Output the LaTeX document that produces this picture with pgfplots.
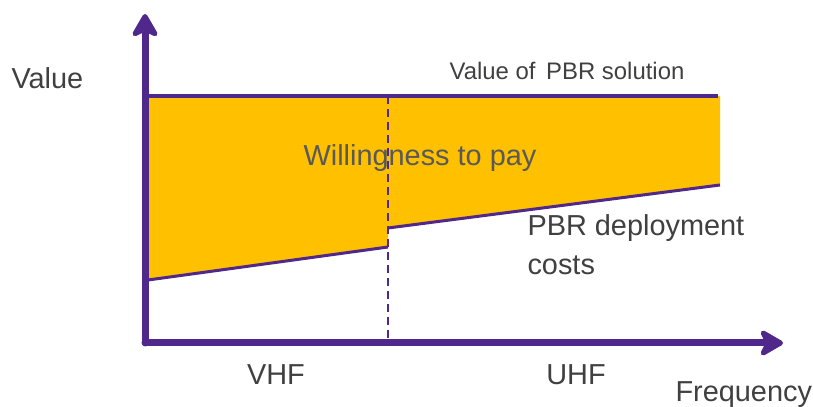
\documentclass[border=0pt]{standalone}
\usepackage{pgfplots}
\pgfplotsset{compat=1.18}
\usepackage{fontspec}
\setmainfont{Liberation Sans}
\usetikzlibrary{arrows.meta}
\definecolor{pbrpurple}{RGB}{80,40,140}
\definecolor{pbrorange}{RGB}{255,192,0}
\definecolor{txtgray}{RGB}{64,64,64}
\definecolor{wgray}{RGB}{89,89,89}
\begin{document}
\begin{tikzpicture}
\begin{axis}[
  name=ax,
  scale only axis, width=813bp, height=407bp,
  xmin=0, xmax=813, ymin=0, ymax=407,
  hide axis, clip=false,
]
% willingness-to-pay area
\addplot[fill=pbrorange, draw=none] coordinates {
  (148,311) (720,311) (720,222) (388,179) (388,160) (148,127)} -- cycle;
% value of PBR solution
\addplot[pbrpurple, line width=4bp] coordinates {(148,311) (718,311)};
% PBR deployment costs
\addplot[pbrpurple, line width=3bp] coordinates {(148,127) (388,160)};
\addplot[pbrpurple, line width=3bp] coordinates {(388,179) (720,222)};
% VHF/UHF boundary
\addplot[pbrpurple, line width=2.5bp, dash pattern=on 8bp off 5bp] coordinates {(388,311) (388,64)};
% axes
\draw[pbrpurple, line width=7bp, line cap=round, -{Stealth[round, length=28bp, width=32bp, inset=8bp]}] (axis cs:145,64) -- (axis cs:145,393);
\draw[pbrpurple, line width=7bp, line cap=round, -{Stealth[round, length=28bp, width=32bp, inset=8bp]}] (axis cs:145,64) -- (axis cs:783,64);
% labels
\node[anchor=west, text=txtgray, font=\fontsize{29}{34}\selectfont] at (axis cs:8,329) {Value};
\node[text=txtgray, font=\fontsize{24}{28}\selectfont] at (axis cs:567,336) {Value of\, PBR solution};
\node[text=wgray, font=\fontsize{29}{34}\selectfont] at (axis cs:420,249) {Willingness to pay};
\node[anchor=west, text=txtgray, font=\fontsize{29}{34}\selectfont] at (axis cs:524,179) {PBR deployment};
\node[anchor=west, text=txtgray, font=\fontsize{29}{34}\selectfont] at (axis cs:524,142) {costs};
\node[text=txtgray, font=\fontsize{29}{34}\selectfont] at (axis cs:276,32) {VHF};
\node[text=txtgray, font=\fontsize{29}{34}\selectfont] at (axis cs:576,32) {UHF};
\node[anchor=west, text=txtgray, font=\fontsize{29}{34}\selectfont] at (axis cs:672,12) {Frequency};
\end{axis}
\pgfresetboundingbox
\path[use as bounding box] (ax.south west) rectangle (ax.north east);
\end{tikzpicture}
\end{document}
